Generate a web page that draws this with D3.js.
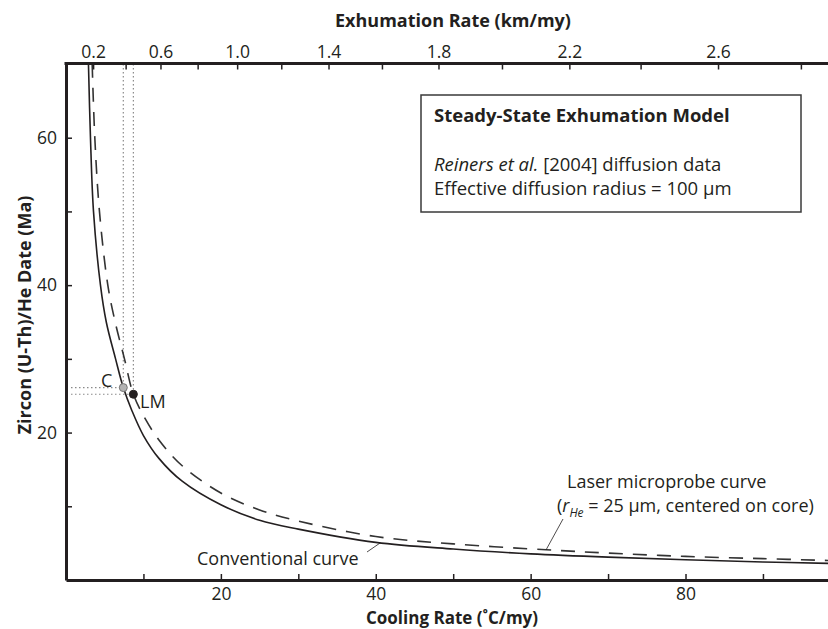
<!DOCTYPE html>
<html>
<head>
<meta charset="utf-8">
<script src="https://cdn.jsdelivr.net/npm/d3@7"></script>
<style>
body { margin: 0; background: #fff; }
svg { display: block; font-family: "Open Sans", "Noto Sans", sans-serif; }
.axis text { font-size: 17.5px; fill: #231f20; }
.axis line { stroke: #231f20; stroke-width: 1.5; }
.axis path { stroke: #231f20; stroke-width: 3; }
</style>
</head>
<body>
<svg width="828" height="629"></svg>
<script>
//------------------------------------------------------------------------------
// values
// conventional curve: cooling rate (C/my) -> zircon (U-Th)/He date (Ma)
var coolingConv = [2.9, 3.16, 3.55, 4.45, 5.2, 6.4, 7.4, 8.5, 10, 12, 15, 20, 25, 30, 40, 50, 60, 70, 80, 90, 98.4];
var dateConv    = [70, 60, 50, 40, 35, 30, 26.1, 23, 19.6, 16.5, 13.4, 10.2, 8.1, 6.9, 5.1, 4.2, 3.55, 3.1, 2.75, 2.45, 2.25];

// laser microprobe curve (r_He = 25 um)
var coolingLM = [3.38, 3.72, 4.32, 5.4, 6.35, 7.55, 8.7, 10, 12, 15, 20, 25, 30, 40, 50, 62, 70, 80, 90, 98.4];
var dateLM    = [70, 60, 50, 40, 35, 30, 25.2, 22.3, 19, 15.5, 11.8, 9.5, 8.0, 5.9, 4.9, 4.1, 3.65, 3.2, 2.9, 2.65];

// the two marked samples
var pointNames   = ["C", "LM"];
var pointCooling = [7.4, 8.7];
var pointDate    = [26.1, 25.2];

// top axis: exhumation rate (km/my) and the cooling rate it falls on
var exhumTicks    = [0.2, 0.4, 0.6, 0.8, 1.0, 1.2, 1.4, 1.6, 1.8, 2.0, 2.2, 2.4, 2.6, 2.8];
var coolingAtTick = [3.5, 7.7, 12.2, 17.0, 22.1, 27.8, 33.9, 40.8, 48.1, 56.3, 65.0, 74.2, 84.2, 94.9];

var xTicks = [10, 20, 30, 40, 50, 60, 70, 80, 90];
var yTicks = [10, 20, 30, 40, 50, 60];
//------------------------------------------------------------------------------

var ink = "#231f20";
var svg = d3.select("svg");

var x = d3.scaleLinear().domain([0, 98.4]).range([66, 828]);
var y = d3.scaleLinear().domain([0, 70]).range([580, 64]);
var xTop = d3.scaleLinear()
    .domain(exhumTicks)
    .range(coolingAtTick.map(function(c) { return x(c); }));

svg.append("clipPath").attr("id", "plot")
    .append("rect")
    .attr("x", 66).attr("y", 63)
    .attr("width", 828 - 66).attr("height", 580 - 63);

// legend box
svg.append("rect")
    .attr("x", 421).attr("y", 95)
    .attr("width", 380).attr("height", 117)
    .attr("fill", "#fff")
    .attr("stroke", "#3a3a3a")
    .attr("stroke-width", 1.5);

var leg = svg.append("g").attr("fill", ink).style("font-size", "18.5px");
leg.append("text").attr("x", 434).attr("y", 122)
    .style("font-weight", 700)
    .text("Steady-State Exhumation Model");
var l2 = leg.append("text").attr("x", 434).attr("y", 171);
l2.append("tspan").style("font-style", "italic").text("Reiners et al.");
l2.append("tspan").text(" [2004] diffusion data");
leg.append("text").attr("x", 434).attr("y", 195)
    .text("Effective diffusion radius = 100 \u00b5m");

// dotted guides from the two samples
var guides = svg.append("g")
    .attr("stroke", "#8a8a8a")
    .attr("stroke-width", 1.2)
    .attr("stroke-dasharray", "1.5,2.5");
pointCooling.forEach(function(c, i) {
    guides.append("line")
        .attr("x1", x(c)).attr("y1", 64)
        .attr("x2", x(c)).attr("y2", y(pointDate[i]));
    guides.append("line")
        .attr("x1", 71).attr("y1", y(pointDate[i]))
        .attr("x2", x(c)).attr("y2", y(pointDate[i]));
});

// curves (catmull-rom copes with the near vertical part at low cooling rate)
var line = d3.line()
    .x(function(d) { return x(d[0]); })
    .y(function(d) { return y(d[1]); })
    .curve(d3.curveCatmullRom.alpha(0.5));

var curves = svg.append("g").attr("clip-path", "url(#plot)");
curves.append("path")
    .datum(d3.zip(coolingConv, dateConv))
    .attr("d", line)
    .attr("fill", "none")
    .attr("stroke", ink)
    .attr("stroke-width", 1.6);
curves.append("path")
    .datum(d3.zip(coolingLM, dateLM))
    .attr("d", line)
    .attr("fill", "none")
    .attr("stroke", "#333")
    .attr("stroke-width", 1.6)
    .attr("stroke-dasharray", "14,10");

// sample points
svg.selectAll(".sample")
    .data(d3.range(pointNames.length))
    .enter()
    .append("circle")
    .attr("class", "sample")
    .attr("cx", function(i) { return x(pointCooling[i]); })
    .attr("cy", function(i) { return y(pointDate[i]); })
    .attr("r", 4)
    .attr("fill", function(i) { return i == 0 ? "#b3b3b3" : ink; })
    .attr("stroke", function(i) { return i == 0 ? "#777" : ink; })
    .attr("stroke-width", 1);

svg.append("text").attr("x", 101).attr("y", 387)
    .attr("fill", ink).style("font-size", "18px").text(pointNames[0]);
svg.append("text").attr("x", 140).attr("y", 408)
    .attr("fill", ink).style("font-size", "18px").text(pointNames[1]);

// curve labels with leader lines
var ann = svg.append("g").attr("fill", ink).style("font-size", "18px");
ann.append("text").attr("x", 197).attr("y", 565).text("Conventional curve");
ann.append("text").attr("x", 567).attr("y", 488).text("Laser microprobe curve");
var a2 = ann.append("text").attr("x", 557).attr("y", 512);
a2.append("tspan").text("(");
a2.append("tspan").style("font-style", "italic").text("r");
a2.append("tspan").style("font-style", "italic").style("font-size", "12px")
    .attr("dy", 5).text("He");
a2.append("tspan").attr("dy", -5).text(" = 25 \u00b5m, centered on core)");

svg.append("line")
    .attr("x1", 367).attr("y1", 552).attr("x2", x(40.6)).attr("y2", y(5.05))
    .attr("stroke", ink).attr("stroke-width", 0.8);
svg.append("line")
    .attr("x1", 563).attr("y1", 519).attr("x2", x(62)).attr("y2", y(4.1))
    .attr("stroke", ink).attr("stroke-width", 0.8);

//------------------------------------------------------------------------------
// axes, ticks pointing into the plot
svg.append("g")
    .attr("class", "axis")
    .attr("transform", "translate(0,580)")
    .call(d3.axisBottom(x).tickValues(xTicks).tickSize(-6).tickSizeOuter(0).tickPadding(8)
        .tickFormat(function(d) { return d % 20 == 0 ? d : ""; }));

svg.append("g")
    .attr("class", "axis")
    .attr("transform", "translate(66,0)")
    .call(d3.axisLeft(y).tickValues(yTicks).tickSize(-6).tickSizeOuter(0).tickPadding(9)
        .tickFormat(function(d) { return d % 20 == 0 ? d : ""; }));

var topAxis = svg.append("g")
    .attr("class", "axis")
    .attr("transform", "translate(0,63.5)")
    .call(d3.axisTop(xTop).tickValues(exhumTicks).tickSize(-6).tickSizeOuter(0).tickPadding(6)
        .tickFormat(function(d, i) { return i % 2 == 0 ? d3.format(".1f")(d) : ""; }));
topAxis.select(".domain").attr("d", "M64.5,0H828");

svg.selectAll(".axis text").style("font-family", "\"Open Sans\", sans-serif");

// axis titles
svg.append("text")
    .attr("x", 453).attr("y", 27)
    .attr("text-anchor", "middle")
    .attr("fill", ink)
    .style("font-size", "18px").style("font-weight", 700)
    .text("Exhumation Rate (km/my)");
svg.append("text")
    .attr("x", 452).attr("y", 624)
    .attr("text-anchor", "middle")
    .attr("fill", ink)
    .style("font-size", "17px").style("font-weight", 700)
    .text("Cooling Rate (\u02daC/my)");
svg.append("text")
    .attr("transform", "translate(31,315) rotate(-90)")
    .attr("text-anchor", "middle")
    .attr("fill", ink)
    .style("font-size", "18px").style("font-weight", 700)
    .text("Zircon (U-Th)/He Date (Ma)");
</script>
</body>
</html>
